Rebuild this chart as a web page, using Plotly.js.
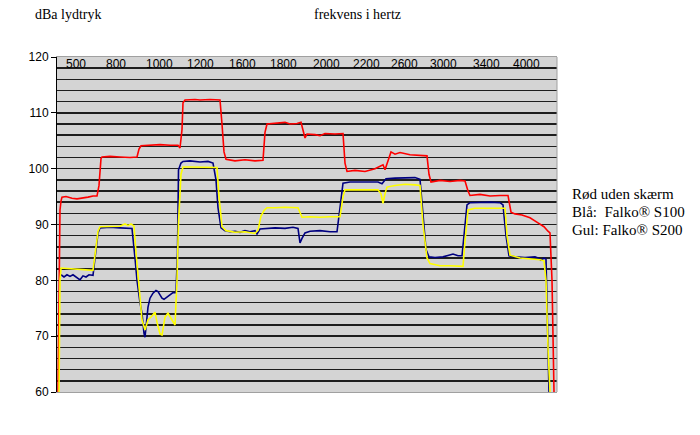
<!DOCTYPE html>
<html>
<head>
<meta charset="utf-8">
<script src="https://cdn.plot.ly/plotly-3.0.1.min.js"></script>
<style>
html,body{margin:0;padding:0;background:#fff;}
#chart{width:700px;height:435px;}
</style>
</head>
<body>
<div id="chart"></div>
<script>
var redX = [1,2.5,3,4,5,9,15,20,26,31,36,40,42,44,45,53,63,73,80,82,84,93,103,113,121,123,125,126,128,138,143,153,163,165,167,169,178,188,198,206,208,210,218,228,233,240,244,246,248,250,258,263,268,278,286,288,290,298,308,318,326,328,331,334,338,343,353,363,370,372,374,383,393,403,408,411,413,423,433,443,451,454,458,465,473,481,487,491,493,495,496,497];
var redY = [60,80,92.6,94.2,94.9,95.0,94.7,94.6,94.7,94.9,95.1,95.1,97,101.8,102.1,102.2,102.1,102.0,102.1,103.5,104.1,104.2,104.3,104.2,104.2,103.7,107,111.8,112.3,112.4,112.3,112.4,112.3,108,103,101.7,101.4,101.6,101.4,101.5,106.5,108,108.1,108.3,108.0,108.1,108.3,107,105.5,106.2,106.1,105.9,106.3,106.2,106.3,101,99.5,99.7,99.5,100,100.7,99.8,101.5,103.0,102.6,102.9,102.5,102.4,102.3,99,97.6,97.9,97.7,97.9,97.8,96,95.2,95.4,95.1,95.2,95.2,92.2,91.9,91.7,91.2,90.3,89.6,88.8,88.5,80,70,60];

var blueX = [4,7,10,13,16,19,23,26,29,32,36,38,41,43,53,63,71,75,78,80,83,85,87,88,89.5,91,93,96,99,101,103,105,107,110,113,116,119,120.5,121.5,124,126,133,143,151,156,159,161,164,168,173,178,183,188,193,198,200,203,208,218,228,236,241,243,245,248,253,263,273,280,283,286,293,303,313,321,325,329,338,348,358,363,366,369,372,378,386,391,396,401,405,407,410,413,423,433,443,446,449,452,458,468,478,481,484,487,489,491,492];
var blueY = [81,80.6,81,80.7,81,80.6,80.1,80.8,80.6,81,80.9,84,88.5,89.4,89.5,89.4,89.4,89.3,84,80,76,74.1,70.5,69.8,72.5,75.2,76.8,77.7,78.2,78,77.4,76.8,76.6,77,77.3,77.8,77.8,85,99.8,101,101.3,101.4,101.2,101.3,101.0,98,93,89.4,88.9,88.7,88.8,88.6,88.9,88.7,88.9,88.3,89.2,89.3,89.4,89.3,89.5,89.3,86.7,87.5,88.5,88.8,88.9,88.7,88.7,93,97.4,97.6,97.6,97.7,97.6,97.3,98.2,98.3,98.3,98.4,98.1,92,85.5,84.2,84.1,84.2,84.5,84.7,84.4,84.4,88,93.5,93.9,94.0,94.0,93.9,93.5,88,84.4,84.2,84.1,84.2,84.0,83.6,84.0,83.8,70,60];

var yellowX = [2,3,4,13,23,33,36,38,41,43,53,63,68,71,74,77,79,81,83,85,88,91,95,98,100,103,105,108,111,115,118,120,121.5,124,126,133,143,153,160,162,165,169,178,188,193,198,201,204,207,210,218,228,241,243,245,253,263,273,283,286,288,298,308,321,324,326,328,330,338,348,358,363,366,370,373,383,393,406,408,411,418,433,448,450,453,463,473,483,487,489,491,493];
var yellowY = [60,80,82.2,82.1,82.0,81.8,81.8,84.5,88.8,89.6,89.6,89.7,90.1,89.8,90.1,89.7,85,81.3,77,72.9,71.1,72.9,73.6,74.3,72.5,70.4,70.2,73.4,74.1,72.9,72,80,90.3,99,100.3,100.3,100.3,100.3,100.2,95,89.6,88.9,88.6,88.7,88.6,88.4,89,91.5,92.5,93.0,93.0,93.1,93.0,92,91.3,91.4,91.3,91.4,91.4,95,96.2,96.2,96.2,96.2,95.5,93.8,95.5,96.7,97.0,97.2,97.1,97.0,90,84,83.0,82.6,82.6,82.5,87,92.6,92.9,92.9,92.9,88,84.5,84.0,83.9,83.7,83.5,80,68,60];

// Frequency band labels along the top
var bandPos = [19,59,102,143,185,226,269,309,347,386,429,469];
var bandLabels = ["500","800","1000","1200","1600","1800","2000","2200","2600","3000","3400","4000"];
var bandLabelLevel = 118.7;

var yTicks = [60,70,80,90,100,110,120];
var legendLines = ["Rød uden skærm","Blå:  Falko® S100","Gul: Falko® S200"];

var traces = [
  {x: redX, y: redY, type:'scatter', mode:'lines', line:{color:'#ff0000', width:1.6}, hoverinfo:'skip'},
  {x: blueX, y: blueY, type:'scatter', mode:'lines', line:{color:'#000080', width:1.6}, hoverinfo:'skip'},
  {x: yellowX, y: yellowY, type:'scatter', mode:'lines', line:{color:'#ffff00', width:1.6}, hoverinfo:'skip'}
];

var serif = 'Liberation Serif, Times New Roman, serif';
var sans = 'Liberation Sans, Arial, sans-serif';
var annotations = [
  {text:'dBa lydtryk', xref:'paper', yref:'paper', x:-0.048, y:1.1254, xanchor:'left', yanchor:'middle', showarrow:false, font:{family:serif, size:14, color:'#000'}},
  {text:'frekvens i hertz', xref:'paper', yref:'paper', x:0.601, y:1.1254, xanchor:'center', yanchor:'middle', showarrow:false, font:{family:serif, size:14, color:'#000'}}
];
var legendY = [0.591, 0.537, 0.4836];
legendLines.forEach(function(t, i){
  annotations.push({text:t, xref:'paper', yref:'paper', x:1.026, y:legendY[i], xanchor:'left', yanchor:'middle', showarrow:false, font:{family:serif, size:15, color:'#000'}});
});
bandLabels.forEach(function(t, i){
  annotations.push({text:t, xref:'x', yref:'y', x:bandPos[i], y:bandLabelLevel, xanchor:'center', yanchor:'middle', showarrow:false, font:{family:sans, size:12, color:'#000'}});
});

var layout = {
  width:700, height:435,
  margin:{l:57, r:143, t:57, b:43, pad:0},
  paper_bgcolor:'#ffffff',
  plot_bgcolor:'#d4d4d4',
  showlegend:false,
  xaxis:{
    range:[0,500], showticklabels:false, ticks:'',
    showgrid:false, zeroline:false,
    showline:true, mirror:true, linecolor:'#a0a0a0', linewidth:1
  },
  yaxis:{
    range:[60,120], tickmode:'array', tickvals:yTicks,
    ticks:'outside', ticklen:5, tickcolor:'#000', tickwidth:1,
    showline:true, linecolor:'#000', linewidth:1,
    showgrid:true, gridcolor:'#1e1e1e', gridwidth:1.6,
    minor:{dtick:2, showgrid:true, gridcolor:'#1e1e1e', gridwidth:1.6, ticks:''},
    zeroline:false,
    tickfont:{family:sans, size:12, color:'#000'}
  },
  shapes:[
    {type:'line', xref:'paper', yref:'paper', x0:1, x1:1, y0:0, y1:1, line:{color:'#a0a0a0', width:1}}
  ],
  annotations: annotations
};

Plotly.newPlot('chart', traces, layout, {displayModeBar:false, staticPlot:true});
</script>
</body>
</html>
